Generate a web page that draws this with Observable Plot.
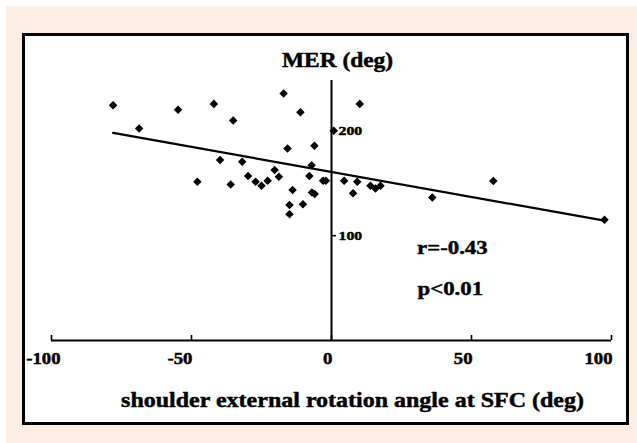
<!DOCTYPE html>
<html>
<head>
<meta charset="utf-8">
<script src="https://cdn.jsdelivr.net/npm/d3@7"></script>
<script src="https://cdn.jsdelivr.net/npm/@observablehq/plot@0.6"></script>
<style>
html, body { margin: 0; padding: 0; background: #ffffff; }
#page { position: relative; width: 637px; height: 443px; overflow: hidden; }
#bg { position: absolute; left: 6px; top: 6px; right: 0; bottom: 0; background: #fdede3; }
#box { position: absolute; left: 22px; top: 33px; width: 601px; height: 386px; border: 3px solid #000; background: #fff; }
#chart { position: absolute; left: 0; top: 0; }
</style>
</head>
<body>
<div id="page"><div id="bg"></div><div id="box"></div><div id="chart"></div></div>
<script>
// shoulder external rotation angle at SFC (deg)
const angle = [-78.0, -68.7, -54.8, -42.0, -35.1, -17.1, -11.1, 10.1, 0.8, -15.7,
               -6.1, -39.8, -31.9, -47.9, -36.0, -29.8, -27.1, -25.0, -22.8, -20.3,
               -18.8, -7.1, -7.9, -13.9, -15.0, -15.0, -10.2, -7.0, -6.0, -3.0,
               -2.0, 4.5, 9.2, 7.7, 13.9, 15.7, 17.5, 36.0, 57.8, 97.5];
// MER (deg)
const mer = [224.5, 202.2, 220.0, 225.7, 209.8, 235.5, 217.8, 225.7, 200.0, 183.1,
             185.7, 172.1, 170.5, 151.4, 148.9, 156.9, 151.4, 147.6, 152.4, 162.6,
             156.2, 167.1, 157.0, 143.5, 129.2, 120.5, 130.0, 141.2, 139.7, 152.4,
             152.4, 152.4, 151.4, 140.5, 147.6, 145.0, 147.6, 136.5, 152.1, 115.2];
// regression line end points
const fitAngle = [-78.0, 97.5];
const fitMer = [198.0, 114.3];

const xTicks = [-100, -50, 0, 50, 100];
const yTicks = [100, 200];
const titleText = "MER (deg)";
const xLabelText = "shoulder external rotation angle at SFC (deg)";
const statsR = "r=-0.43";
const statsP = "p<0.01";

const points = angle.map((a, i) => ({angle: a, mer: mer[i]}));
const fit = fitAngle.map((a, i) => ({angle: a, mer: fitMer[i]}));

const font = "'Liberation Serif', 'Times New Roman', serif";
const ink = {fill: "#000", stroke: "#000", strokeWidth: 0.45, fontWeight: "bold"};

const chart = Plot.plot({
  width: 637,
  height: 443,
  marginLeft: 51,
  marginRight: 26,
  marginTop: 80,
  marginBottom: 103,
  style: {background: "transparent", fontFamily: font, color: "#000"},
  x: {domain: [-100, 100], axis: null},
  y: {domain: [0, 248], axis: null},
  marks: [
    Plot.ruleY([0], {stroke: "#000", strokeWidth: 2}),
    Plot.ruleX([0], {stroke: "#000", strokeWidth: 2}),
    Plot.ruleX(xTicks, {x: d => d, y1: 0, y2: 0, insetTop: -5, stroke: "#000", strokeWidth: 1.6}),
    Plot.ruleY(yTicks, {y: d => d, x1: 0, x2: 0, insetRight: -5, stroke: "#000", strokeWidth: 1.6}),
    Plot.text(yTicks, {x: 0, y: d => d, text: d => String(d), textAnchor: "start", dx: 7,
      fontSize: 13.5, ...ink}),
    Plot.text(xTicks.slice(1), {x: d => d, text: d => String(d), frameAnchor: "bottom",
      lineAnchor: "bottom", textAnchor: "end", dx: 1, dy: 23, fontSize: 16, ...ink}),
    Plot.text(xTicks.slice(0, 1), {x: d => d, text: d => String(d), frameAnchor: "bottom",
      lineAnchor: "bottom", textAnchor: "end", dx: 9, dy: 23, fontSize: 16, ...ink}),
    Plot.line(fit, {x: "angle", y: "mer", stroke: "#000", strokeWidth: 2.2}),
    Plot.dot(points, {x: "angle", y: "mer", symbol: "square", r: 3.4, rotate: 45, fill: "#000", stroke: "none"}),
    Plot.text([titleText], {text: d => d, frameAnchor: "top", lineAnchor: "bottom", dx: 6, dy: -14,
      fontSize: 20, ...ink}),
    Plot.text([xLabelText], {text: d => d, frameAnchor: "bottom", lineAnchor: "bottom", dx: 21, dy: 66,
      fontSize: 20.5, ...ink}),
    Plot.text([statsR], {text: d => d, frameAnchor: "top-left", textAnchor: "start", lineAnchor: "bottom",
      dx: 365.5, dy: 173, fontSize: 19.5, ...ink}),
    Plot.text([statsP], {text: d => d, frameAnchor: "top-left", textAnchor: "start", lineAnchor: "bottom",
      dx: 366, dy: 214, fontSize: 19.5, ...ink})
  ]
});
document.getElementById("chart").append(chart);

// the reference typography is horizontally stretched; widen glyphs accordingly
const K = 1.17;
chart.querySelectorAll("text").forEach(t => {
  const w = t.getComputedTextLength();
  if (w > 0) {
    t.setAttribute("textLength", (w * K).toFixed(1));
    t.setAttribute("lengthAdjust", "spacingAndGlyphs");
  }
});
</script>
</body>
</html>
